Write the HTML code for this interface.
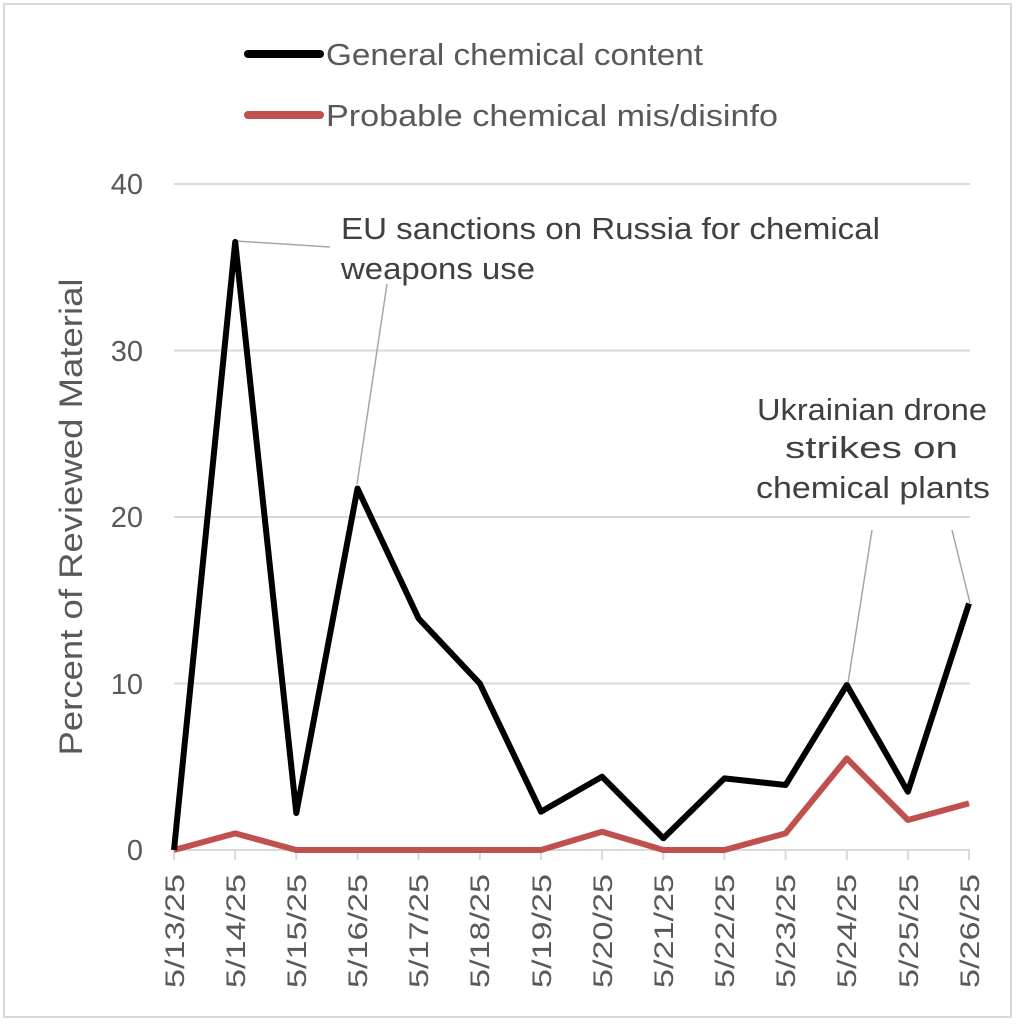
<!DOCTYPE html><html><head><style>body{margin:0;background:#fff}svg{display:block}text{font-family:"Liberation Sans",sans-serif;fill:#595959}</style></head><body>
<svg width="1016" height="1024" viewBox="0 0 1016 1024">
<rect x="4" y="4" width="1007" height="1013" fill="#fff" stroke="#d9d9d9" stroke-width="2"/>
<g stroke="#d9d9d9" stroke-width="2">
<line x1="174" y1="184" x2="970" y2="184"/><line x1="174" y1="350.5" x2="970" y2="350.5"/><line x1="174" y1="517" x2="970" y2="517"/><line x1="174" y1="683.5" x2="970" y2="683.5"/><line x1="174" y1="850" x2="970" y2="850"/>
<path d="M174 850v10M235.2 850v10M296.3 850v10M357.5 850v10M418.6 850v10M479.8 850v10M541 850v10M602.1 850v10M663.3 850v10M724.4 850v10M785.6 850v10M846.8 850v10M907.9 850v10M969 850v10"/>
</g>
<g font-size="29" text-anchor="end">
<text x="143" y="194">40</text><text x="143" y="361">30</text><text x="143" y="527">20</text><text x="143" y="694">10</text><text x="143" y="860">0</text></g>
<text transform="translate(82,517) rotate(-90)" font-size="32" text-anchor="middle" textLength="477" lengthAdjust="spacingAndGlyphs">Percent of Reviewed Material</text>
<g font-size="27" text-anchor="end">
<text transform="translate(184,874) rotate(-90)" textLength="114" lengthAdjust="spacingAndGlyphs">5/13/25</text><text transform="translate(245,874) rotate(-90)" textLength="114" lengthAdjust="spacingAndGlyphs">5/14/25</text><text transform="translate(306,874) rotate(-90)" textLength="114" lengthAdjust="spacingAndGlyphs">5/15/25</text><text transform="translate(367,874) rotate(-90)" textLength="114" lengthAdjust="spacingAndGlyphs">5/16/25</text><text transform="translate(428,874) rotate(-90)" textLength="114" lengthAdjust="spacingAndGlyphs">5/17/25</text><text transform="translate(489,874) rotate(-90)" textLength="114" lengthAdjust="spacingAndGlyphs">5/18/25</text><text transform="translate(551,874) rotate(-90)" textLength="114" lengthAdjust="spacingAndGlyphs">5/19/25</text><text transform="translate(612,874) rotate(-90)" textLength="114" lengthAdjust="spacingAndGlyphs">5/20/25</text><text transform="translate(673,874) rotate(-90)" textLength="114" lengthAdjust="spacingAndGlyphs">5/21/25</text><text transform="translate(734,874) rotate(-90)" textLength="114" lengthAdjust="spacingAndGlyphs">5/22/25</text><text transform="translate(795,874) rotate(-90)" textLength="114" lengthAdjust="spacingAndGlyphs">5/23/25</text><text transform="translate(856,874) rotate(-90)" textLength="114" lengthAdjust="spacingAndGlyphs">5/24/25</text><text transform="translate(918,874) rotate(-90)" textLength="114" lengthAdjust="spacingAndGlyphs">5/25/25</text><text transform="translate(979,874) rotate(-90)" textLength="114" lengthAdjust="spacingAndGlyphs">5/26/25</text></g>
<g stroke="#a6a6a6" stroke-width="1.5"><line x1="236" y1="241" x2="330" y2="247"/><line x1="387" y1="284" x2="357" y2="484"/><line x1="872" y1="530" x2="848" y2="683"/><line x1="952" y1="530" x2="970" y2="603"/></g>
<polyline fill="none" stroke="#c0504d" stroke-width="6" stroke-linejoin="round" points="174,850 235.2,833.4 296.3,850 357.5,850 418.6,850 479.8,850 541,850 602.1,831.7 663.3,850 724.4,850 785.6,833.4 846.8,758.4 907.9,820 969,803.4"/>
<polyline fill="none" stroke="#000" stroke-width="6" stroke-linejoin="round" points="174,850 235.2,242 296.3,813 357.5,488.5 418.6,618.5 479.8,683.5 541,811.7 602.1,776.7 663.3,838.3 724.4,778.4 785.6,785 846.8,685 907.9,791.7 969,603.5"/>
<line x1="248" y1="54" x2="320" y2="54" stroke="#000" stroke-width="8" stroke-linecap="round"/>
<line x1="248" y1="115" x2="320" y2="115" stroke="#c0504d" stroke-width="8" stroke-linecap="round"/>
<g font-size="31"><text x="326" y="65" textLength="377" lengthAdjust="spacingAndGlyphs">General chemical content</text><text x="326" y="126" textLength="452" lengthAdjust="spacingAndGlyphs">Probable chemical mis/disinfo</text></g>
<g font-size="31"><text x="341" y="239" style="fill:#404040" textLength="539" lengthAdjust="spacingAndGlyphs">EU sanctions on Russia for chemical</text><text x="341" y="279" style="fill:#404040" textLength="194" lengthAdjust="spacingAndGlyphs">weapons use</text>
<text x="757" y="420" style="fill:#404040" textLength="230" lengthAdjust="spacingAndGlyphs">Ukrainian drone</text><text x="785" y="458" style="fill:#404040" textLength="173" lengthAdjust="spacingAndGlyphs">strikes on</text><text x="756" y="498" style="fill:#404040" textLength="234" lengthAdjust="spacingAndGlyphs">chemical plants</text></g>
</svg></body></html>
